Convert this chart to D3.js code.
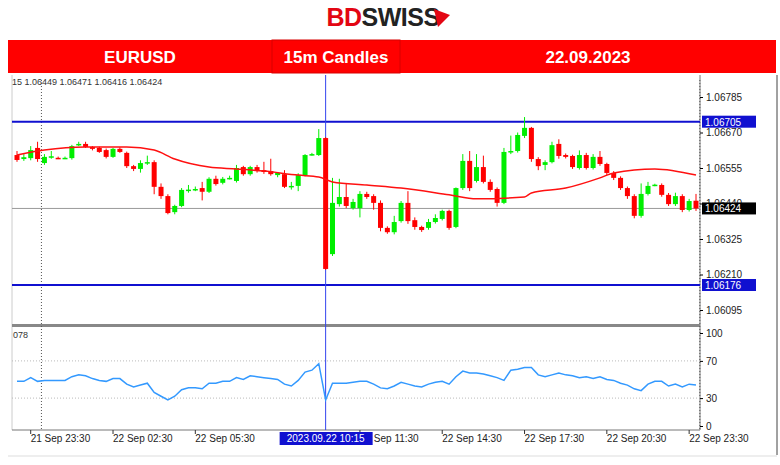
<!DOCTYPE html>
<html>
<head>
<meta charset="utf-8">
<script src="https://cdn.jsdelivr.net/npm/d3@7"></script>
<style>
  body { margin: 0; background: #fff; }
  text { font-family: "Liberation Sans", Arial, sans-serif; }
</style>
</head>
<body>
<svg id="chart" width="780" height="465"></svg>
<script>
// candle data, 15m EURUSD, 21 Sep 23:00 .. 22 Sep 23:45  [open, high, low, close]
const candles = [
  [1.06597,1.06610,1.06575,1.06581],[1.06584,1.06600,1.06578,1.06590],[1.06587,1.06626,1.06580,1.06613],[1.06620,1.06640,1.06575,1.06584],
  [1.06571,1.06600,1.06565,1.06591],[1.06589,1.06610,1.06585,1.06593],[1.06588,1.06592,1.06584,1.06587],[1.06587,1.06592,1.06584,1.06588],
  [1.06587,1.06630,1.06582,1.06626],[1.06629,1.06640,1.06626,1.06633],[1.06633,1.06640,1.06620,1.06623],[1.06623,1.06626,1.06612,1.06617],
  [1.06620,1.06624,1.06604,1.06607],[1.06613,1.06618,1.06586,1.06591],[1.06591,1.06620,1.06588,1.06617],[1.06617,1.06622,1.06604,1.06607],
  [1.06604,1.06608,1.06555,1.06561],[1.06561,1.06565,1.06545,1.06552],[1.06552,1.06580,1.06540,1.06571],[1.06571,1.06595,1.06565,1.06574],
  [1.06574,1.06580,1.06470,1.06494],[1.06494,1.06505,1.06455,1.06464],[1.06464,1.06470,1.06405,1.06409],[1.06412,1.06436,1.06405,1.06432],
  [1.06432,1.06490,1.06428,1.06484],[1.06484,1.06500,1.06475,1.06485],[1.06486,1.06495,1.06480,1.06487],[1.06490,1.06510,1.06450,1.06478],
  [1.06478,1.06525,1.06474,1.06520],[1.06520,1.06530,1.06498,1.06503],[1.06507,1.06526,1.06502,1.06520],[1.06522,1.06530,1.06518,1.06523],
  [1.06513,1.06565,1.06508,1.06555],[1.06558,1.06562,1.06530,1.06535],[1.06535,1.06562,1.06530,1.06558],[1.06558,1.06565,1.06540,1.06545],
  [1.06548,1.06575,1.06536,1.06542],[1.06545,1.06585,1.06530,1.06535],[1.06532,1.06542,1.06525,1.06539],[1.06535,1.06548,1.06490,1.06494],
  [1.06494,1.06510,1.06485,1.06497],[1.06497,1.06538,1.06480,1.06532],[1.06532,1.06600,1.06528,1.06597],[1.06597,1.06604,1.06595,1.06600],
  [1.06597,1.06681,1.06594,1.06652],[1.06652,1.06655,1.06225,1.06228],[1.06276,1.06523,1.06270,1.06442],[1.06438,1.06520,1.06430,1.06461],
  [1.06461,1.06505,1.06425,1.06432],[1.06425,1.06455,1.06420,1.06445],[1.06425,1.06480,1.06395,1.06471],[1.06471,1.06478,1.06455,1.06461],
  [1.06464,1.06470,1.06420,1.06442],[1.06442,1.06450,1.06350,1.06361],[1.06361,1.06366,1.06342,1.06347],[1.06347,1.06400,1.06340,1.06380],
  [1.06383,1.06448,1.06378,1.06442],[1.06442,1.06480,1.06374,1.06383],[1.06386,1.06395,1.06355,1.06364],[1.06364,1.06368,1.06348,1.06354],
  [1.06361,1.06390,1.06355,1.06380],[1.06380,1.06405,1.06375,1.06393],[1.06390,1.06420,1.06385,1.06416],[1.06416,1.06420,1.06355,1.06361],
  [1.06364,1.06492,1.06360,1.06490],[1.06490,1.06600,1.06484,1.06578],[1.06578,1.06610,1.06480,1.06490],[1.06513,1.06600,1.06508,1.06558],
  [1.06558,1.06595,1.06505,1.06510],[1.06510,1.06518,1.06478,1.06484],[1.06487,1.06492,1.06430,1.06442],[1.06442,1.06620,1.06438,1.06607],
  [1.06609,1.06660,1.06600,1.06610],[1.06610,1.06670,1.06605,1.06662],[1.06659,1.06720,1.06652,1.06685],[1.06685,1.06688,1.06575,1.06584],
  [1.06584,1.06590,1.06548,1.06561],[1.06565,1.06580,1.06548,1.06574],[1.06574,1.06640,1.06570,1.06629],[1.06633,1.06648,1.06585,1.06594],
  [1.06597,1.06602,1.06586,1.06591],[1.06594,1.06598,1.06552,1.06558],[1.06555,1.06612,1.06550,1.06597],[1.06597,1.06604,1.06550,1.06555],
  [1.06555,1.06600,1.06550,1.06591],[1.06591,1.06610,1.06562,1.06568],[1.06568,1.06572,1.06532,1.06539],[1.06539,1.06545,1.06516,1.06523],
  [1.06523,1.06528,1.06484,1.06490],[1.06490,1.06495,1.06455,1.06464],[1.06464,1.06470,1.06392,1.06400],[1.06400,1.06505,1.06394,1.06471],
  [1.06471,1.06510,1.06466,1.06497],[1.06500,1.06504,1.06496,1.06501],[1.06500,1.06505,1.06462,1.06468],[1.06468,1.06474,1.06432,1.06438],
  [1.06438,1.06475,1.06432,1.06464],[1.06464,1.06470,1.06412,1.06419],[1.06419,1.06455,1.06414,1.06448],[1.06449,1.06471,1.06416,1.06424]
];

// moving average, read at some candle indexes
const maIdx = [0, 4, 10, 16, 20, 23, 28, 32, 36, 41, 44, 46, 51, 56, 63, 67, 74, 75, 80, 85, 87, 93, 99];
const maVal = [1.06597,1.06613,1.06623,1.06623,1.06613,1.06584,1.06558,1.06552,1.06545,1.06532,1.06526,1.06510,
               1.06500,1.06490,1.06468,1.06455,1.06461,1.06474,1.06490,1.06523,1.06539,1.06552,1.06532];

// RSI per candle
const rsi = [48,48,52,48,49,49,49,49,53,55,54,51,49,48,51,51,45,42,44,46,
             36,32,28,32,39,41,41,40,46,46,48,48,52,50,54,53,52,51,50,45,
             43,49,58,60,67,28,46,46,46,47,48,48,45,41,40,43,47,45,43,42,
             45,47,48,45,53,59,57,57,56,54,52,49,60,61,63,63,55,53,55,57,
             55,54,52,53,51,53,50,49,46,44,40,38,45,48,48,43,45,42,45,44];

const priceTicks = [1.06785, 1.06670, 1.06555, 1.06440, 1.06325, 1.06210, 1.06095];
const rsiTicks = [100, 70, 30, 0];
const timeLabels = ["21 Sep 23:30","22 Sep 02:30","22 Sep 05:30","22 Sep 11:30","22 Sep 14:30","22 Sep 17:30","22 Sep 20:30","22 Sep 23:30"];
const timeIdx = [2, 14, 26, 50, 62, 74, 86, 98];
const levels = [1.06705, 1.06176];
const lastPrice = 1.06424;
const cursorIdx = 45;
const cursorLabel = "2023.09.22 10:15";
const dayIdx = [4, 100];

const svg = d3.select("#chart");
const x = d3.scaleLinear().domain([0, 99]).range([17, 696]);
const y = d3.scaleLinear().domain([1.06095, 1.06785]).range([310, 97]);
const yr = d3.scaleLinear().domain([0, 100]).range([426, 333]);
const fmt = d3.format(".5f");

// header logo
const logo = svg.append("text").attr("x", 383).attr("y", 26).attr("text-anchor", "middle")
  .style("font-size", "25px").style("font-weight", "bold").style("letter-spacing", "-0.5px");
logo.append("tspan").attr("fill", "#e30613").text("BD");
logo.append("tspan").attr("fill", "#222").text("SWISS");
svg.append("path").attr("d", "M434,9 L450,15 L438,27 Z").attr("fill", "#e30613");

// red title bar
svg.append("rect").attr("x", 8).attr("y", 40).attr("width", 768).attr("height", 33).attr("fill", "#ff0000");
svg.append("rect").attr("x", 272).attr("y", 40).attr("width", 128).attr("height", 33)
  .attr("fill", "none").attr("stroke", "#d80000").attr("stroke-width", 1);
[["EURUSD", 140], ["15m Candles", 336], ["22.09.2023", 588]].forEach(([t, cx]) => {
  svg.append("text").attr("x", cx).attr("y", 63).attr("text-anchor", "middle")
    .attr("fill", "#fff").style("font-size", "17px").style("font-weight", "bold").text(t);
});

// panel frames
svg.append("line").attr("x1", 12).attr("x2", 12).attr("y1", 75).attr("y2", 430).attr("stroke", "#ccc");
svg.append("line").attr("x1", 700).attr("x2", 700).attr("y1", 75).attr("y2", 430).attr("stroke", "#777");
svg.append("rect").attr("x", 12).attr("y", 324).attr("width", 688).attr("height", 3).attr("fill", "#888");
svg.append("line").attr("x1", 12).attr("x2", 700).attr("y1", 430).attr("y2", 430).attr("stroke", "#777");
svg.append("line").attr("x1", 777).attr("x2", 777).attr("y1", 75).attr("y2", 455).attr("stroke", "#444");
svg.append("line").attr("x1", 8).attr("x2", 777).attr("y1", 456).attr("y2", 456).attr("stroke", "#ddd");

svg.append("text").attr("x", 12).attr("y", 85).style("font-size", "9px").attr("fill", "#333")
  .text("15  1.06449 1.06471 1.06416 1.06424");
svg.append("text").attr("x", 13).attr("y", 338).style("font-size", "9px").attr("fill", "#333").text("078");

// day separators
dayIdx.forEach(i => {
  svg.append("line").attr("x1", x(i) - 3).attr("x2", x(i) - 3).attr("y1", 80).attr("y2", 430)
    .attr("stroke", "#555").attr("stroke-dasharray", "1,2");
});

// rsi grid
[70, 30].forEach(v => {
  svg.append("line").attr("x1", 12).attr("x2", 700).attr("y1", yr(v)).attr("y2", yr(v))
    .attr("stroke", "#bbb").attr("stroke-dasharray", "1,2");
});

// last price line and levels
svg.append("line").attr("x1", 12).attr("x2", 700).attr("y1", y(lastPrice)).attr("y2", y(lastPrice)).attr("stroke", "#999");
levels.forEach(v => {
  svg.append("line").attr("x1", 12).attr("x2", 700).attr("y1", y(v)).attr("y2", y(v))
    .attr("stroke", "#1010d0").attr("stroke-width", 2);
});

// cursor line
svg.append("line").attr("x1", x(cursorIdx)).attr("x2", x(cursorIdx)).attr("y1", 75).attr("y2", 430)
  .attr("stroke", "#3344ee").attr("stroke-width", 1);

// candles
const g = svg.append("g");
candles.forEach((c, i) => {
  const [o, h, l, cl] = c;
  const col = cl >= o ? "#00ee00" : "#ff0000";
  g.append("line").attr("x1", x(i)).attr("x2", x(i)).attr("y1", y(h)).attr("y2", y(l))
    .attr("stroke", col).attr("stroke-width", 1);
  const top = y(Math.max(o, cl)), bot = y(Math.min(o, cl));
  g.append("rect").attr("x", x(i) - 2.5).attr("y", top).attr("width", 5)
    .attr("height", Math.max(1.5, bot - top)).attr("fill", col);
});

// moving average
svg.append("path").datum(maIdx.map((d, k) => [d, maVal[k]]))
  .attr("d", d3.line().x(d => x(d[0])).y(d => y(d[1])).curve(d3.curveMonotoneX))
  .attr("fill", "none").attr("stroke", "#ff1010").attr("stroke-width", 1.5);

// rsi line
svg.append("path").datum(rsi)
  .attr("d", d3.line().x((d, i) => x(i)).y(d => yr(d)))
  .attr("fill", "none").attr("stroke", "#3399ff").attr("stroke-width", 1.5);

// price axis
const ay = d3.axisRight(y).tickValues(priceTicks).tickFormat(fmt).tickSize(3);
svg.append("g").attr("transform", "translate(700,0)").call(ay)
  .call(s => s.select(".domain").remove())
  .call(s => s.selectAll("text").style("font-size", "10px").attr("fill", "#222"));

// level and last price tags
levels.forEach(v => {
  svg.append("rect").attr("x", 702).attr("y", y(v) - 6).attr("width", 54).attr("height", 12).attr("fill", "#1010d0");
  svg.append("text").attr("x", 705).attr("y", y(v) + 4).style("font-size", "10px").attr("fill", "#fff").text(fmt(v));
});
svg.append("rect").attr("x", 702).attr("y", y(lastPrice) - 6).attr("width", 54).attr("height", 12).attr("fill", "#000");
svg.append("text").attr("x", 705).attr("y", y(lastPrice) + 4).style("font-size", "10px").attr("fill", "#fff").text(fmt(lastPrice));

// rsi axis
const ar = d3.axisRight(yr).tickValues(rsiTicks).tickSize(3);
svg.append("g").attr("transform", "translate(700,0)").call(ar)
  .call(s => s.select(".domain").remove())
  .call(s => s.selectAll("text").style("font-size", "10px").attr("fill", "#222"));

// time axis
timeIdx.forEach((i, k) => {
  svg.append("line").attr("x1", x(i)).attr("x2", x(i)).attr("y1", 430).attr("y2", 434).attr("stroke", "#333");
  svg.append("text").attr("x", x(i)).attr("y", 442).style("font-size", "10px").attr("fill", "#222").text(timeLabels[k]);
});
svg.append("rect").attr("x", x(cursorIdx) - 46).attr("y", 432).attr("width", 93).attr("height", 13).attr("fill", "#1010d0");
svg.append("text").attr("x", x(cursorIdx)).attr("y", 442).attr("text-anchor", "middle")
  .style("font-size", "10px").attr("fill", "#fff").text(cursorLabel);
</script>
</body>
</html>
